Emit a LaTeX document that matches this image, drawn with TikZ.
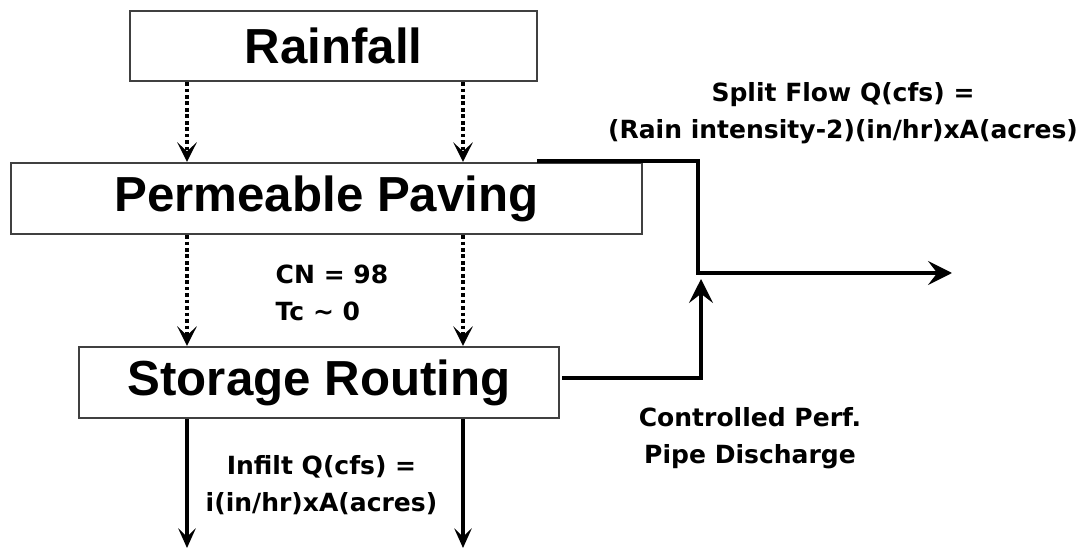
\documentclass[tikz,border=0pt]{standalone}
\usepackage{fontspec}
\setmainfont{Liberation Sans}
\newfontfamily\notefont{DejaVu Sans}
\usetikzlibrary{arrows.meta,positioning}
\tikzset{
    box style/.style={draw=black!75,line width=1.5pt,fill=white,inner sep=0pt,font=\fontsize{35}{42}\selectfont\bfseries},
    seep/.style={->,>={Stealth[length=14pt,width=14pt,inset=6.5pt]},line width=2.5pt,dash pattern=on 2.6pt off 2pt},
    drain/.style={->,>={Stealth[length=14pt,width=12.5pt,inset=6pt]},line width=2.4pt},
    flow/.style={line width=3.3pt},
    flow arr/.style={flow,->,>={Stealth[length=17pt,width=17pt,inset=6.5pt]}},
    note/.style={font=\notefont\bfseries\fontsize{17.8}{26.3}\selectfont,align=center,inner sep=0pt},
}

\begin{document}
\begin{tikzpicture}[x=0.025cm,y=-0.025cm]
    \useasboundingbox (0,0) rectangle (1084,550);
    \node[box style,minimum width=10.175cm,minimum height=1.75cm] (rain) at (333.5,46) {Rainfall};
    \node[box style,minimum width=15.775cm,minimum height=1.775cm] (pave) at (326.5,198.5) {Permeable Paving};
    \node[box style,minimum width=12cm,minimum height=1.775cm] (store) at (319,382.5) {Storage Routing};
    % the two columns the water goes down
    \coordinate (colA) at (187,0);
    \coordinate (colB) at (463,0);
    \coordinate (ground) at (0,548);
    \foreach \c in {colA,colB}{
        \draw[seep] (rain.south -| \c) -- (pave.north -| \c);
        \draw[seep] (pave.south -| \c) -- (store.north -| \c);
        \draw[drain] (store.south -| \c) -- (\c |- ground);
    }
    \node[note,align=left] (cn) at (332,293) {CN = 98\\Tc \textasciitilde{} 0};
    \node[note] (infilt) at (321.5,485) {Infilt Q(cfs) =\\i(in/hr)xA(acres)};
    \node[note] (split) at (843,113) {Split Flow Q(cfs) =\\(Rain intensity-2)(in/hr)xA(acres)};
    \node[note] (pipe) at (750,438) {Controlled Perf.\\Pipe Discharge};
    % split flow and pipe outflow
    \coordinate (splitstart) at (537,161);
    \coordinate (junction) at (698,273);
    \coordinate (outlet) at (952,273);
    \draw[flow arr] (splitstart) -| (junction) -- (outlet);
    \coordinate (pipeout) at (562,378);
    \coordinate (pipetip) at (701,279);
    \draw[flow arr] (pipeout) -| (pipetip);
\end{tikzpicture}
\end{document}
